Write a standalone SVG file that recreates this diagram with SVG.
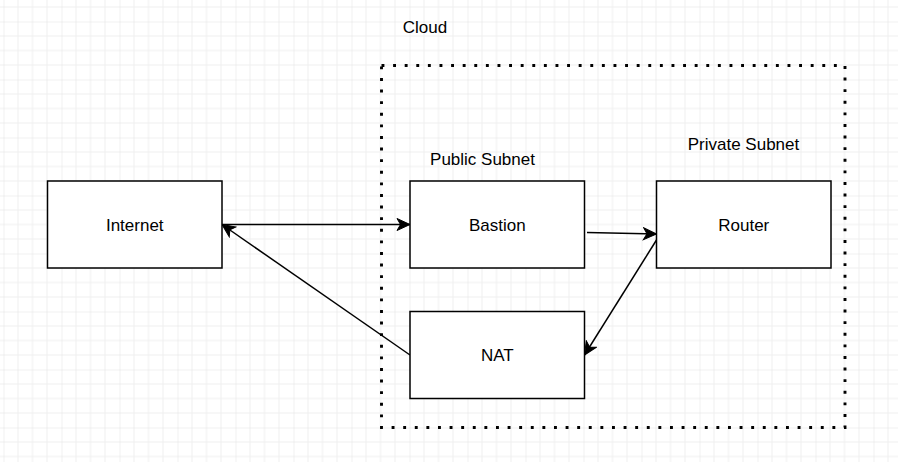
<svg xmlns="http://www.w3.org/2000/svg" width="898" height="462" viewBox="0 0 898 462">
  <defs>
    <pattern id="grid" patternUnits="userSpaceOnUse" x="3.5" y="21.5" width="58" height="58">
      <path d="M14.5,0V58M29,0V58M43.5,0V58M0,14.5H58M0,29H58M0,43.5H58" stroke="#efefef" stroke-width="1" fill="none"/>
      <path d="M0,0V58M0,0H58" stroke="#e2e2e2" stroke-width="1" fill="none"/>
    </pattern>
    <marker id="arrow" markerUnits="userSpaceOnUse" viewBox="-14 -7 15 14" markerWidth="15" markerHeight="14" refX="0" refY="0" orient="auto">
      <path d="M0,0 L-13,-6 L-9.5,0 L-13,6 Z" fill="#000" stroke="#000" stroke-width="1"/>
    </marker>
  </defs>
  <style>
    .box { fill: #fff; stroke: #000; stroke-width: 1.5; }
    .label { font-family: "Liberation Sans", Arial, sans-serif; font-size: 17px; fill: #000; text-anchor: middle; }
    .edge { stroke: #000; stroke-width: 1.5; fill: none; }
  </style>
  <rect width="898" height="462" fill="#fff"/>
  <rect width="898" height="462" fill="url(#grid)"/>

  <g id="cloud">
    <rect x="381.5" y="65.5" width="463.5" height="362" fill="none" stroke="#000" stroke-width="2.9" stroke-dasharray="2.9 8.7"/>
    <text class="label" x="425" y="32.5">Cloud</text>
  </g>
  <g id="public-subnet-label">
    <text class="label" x="482.5" y="164.5">Public Subnet</text>
  </g>
  <g id="private-subnet-label">
    <text class="label" x="743.5" y="150">Private Subnet</text>
  </g>

  <g id="connectors">
    <line class="edge" x1="222" y1="224.5" x2="410" y2="224.5" marker-end="url(#arrow)"/>
    <line class="edge" x1="410" y1="355" x2="222" y2="224.5" marker-end="url(#arrow)"/>
    <line class="edge" x1="587" y1="232.5" x2="656.5" y2="234" marker-end="url(#arrow)"/>
    <line class="edge" x1="656.5" y1="240" x2="584.5" y2="355" marker-end="url(#arrow)"/>
  </g>

  <g id="internet">
    <rect class="box" x="47.5" y="181" width="174.5" height="87"/>
    <text class="label" x="134.75" y="230.5">Internet</text>
  </g>
  <g id="bastion">
    <rect class="box" x="410" y="181" width="174.5" height="87"/>
    <text class="label" x="497.25" y="230.5">Bastion</text>
  </g>
  <g id="router">
    <rect class="box" x="656.5" y="181" width="174.5" height="87"/>
    <text class="label" x="743.75" y="230.5">Router</text>
  </g>
  <g id="nat">
    <rect class="box" x="410" y="311.5" width="174.5" height="87"/>
    <text class="label" x="497.25" y="361">NAT</text>
  </g>
</svg>
